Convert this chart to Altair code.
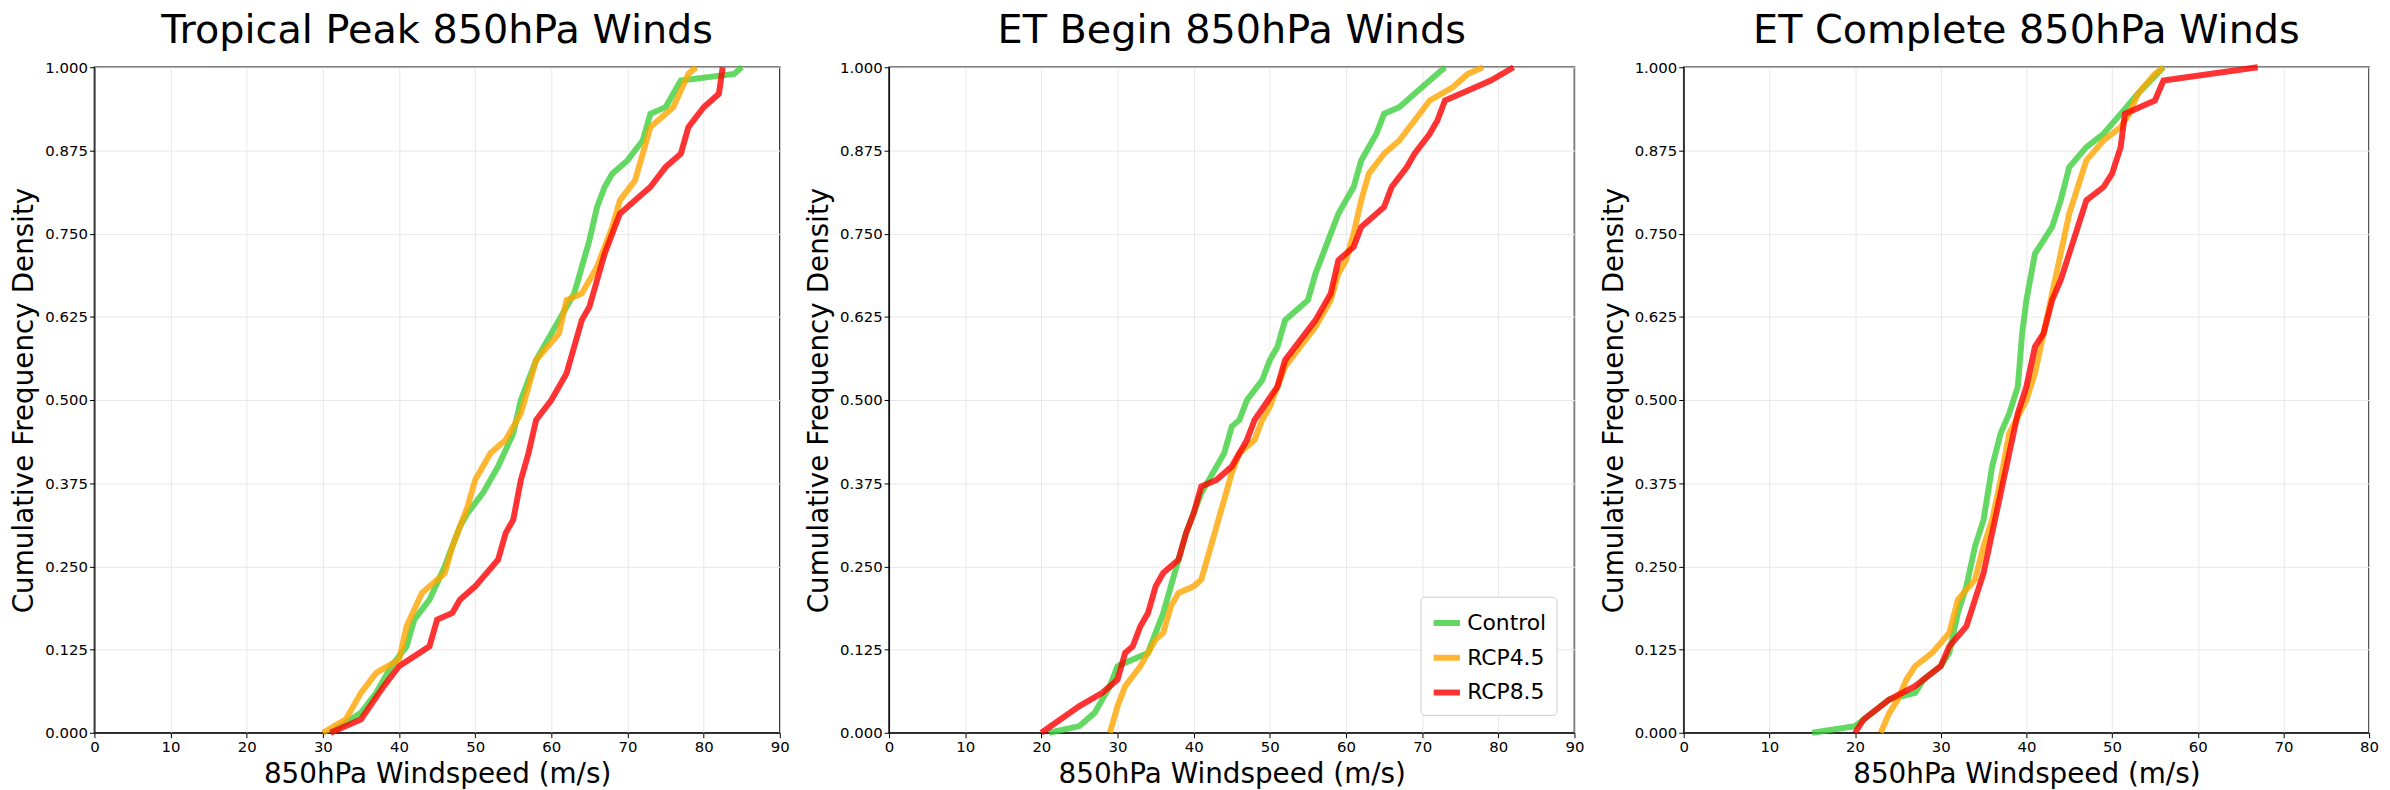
import pandas as pd
import altair as alt

series = ["Control", "RCP4.5", "RCP8.5"]
colors = ["#3ccf3c", "#ffa500", "#ff0000"]

# Tropical Peak
tp_ctl_x = [31, 35, 37, 39, 41, 42, 44, 46, 47, 48, 49, 51, 53, 55, 56, 57, 58, 60, 61, 62, 63, 64, 65, 66, 67, 68, 70, 72, 73, 75, 77, 84, 85]
tp_ctl_y = [0, .03, .06, .1, .13, .17, .2, .25, .28, .31, .33, .36, .4, .45, .5, .53, .56, .6, .62, .64, .66, .7, .74, .79, .82, .84, .86, .89, .93, .94, .98, .99, 1]
tp_45_x = [30, 33, 35, 37, 40, 41, 43, 45, 46, 47, 49, 50, 52, 54, 56, 58, 61, 62, 64, 66, 68, 69, 71, 73, 76, 78, 79]
tp_45_y = [0, .02, .06, .09, .11, .16, .21, .23, .24, .28, .34, .38, .42, .44, .48, .56, .6, .65, .66, .7, .76, .8, .83, .91, .94, .99, 1]
tp_85_x = [31, 35, 38, 40, 44, 45, 47, 48, 50, 53, 54, 55, 56, 57, 58, 60, 62, 63, 64, 65, 66, 67, 68, 69, 71, 73, 75, 77, 78, 80, 82, 82.5]
tp_85_y = [0, .02, .07, .1, .13, .17, .18, .2, .22, .26, .3, .32, .38, .42, .47, .5, .54, .58, .62, .64, .68, .72, .75, .78, .8, .82, .85, .87, .91, .94, .96, 1]

# ET Begin
eb_ctl_x = [21, 25, 27, 29, 30, 32, 34, 35, 36, 37, 38, 39, 40, 41, 42, 44, 45, 46, 47, 49, 50, 51, 52, 53, 55, 56, 57, 58, 59, 60, 61, 62, 63, 64, 65, 67, 69, 71, 73]
eb_ctl_y = [0, .01, .03, .07, .1, .11, .12, .15, .18, .22, .26, .3, .33, .36, .38, .42, .46, .47, .5, .53, .56, .58, .62, .63, .65, .69, .72, .75, .78, .8, .82, .86, .88, .9, .93, .94, .96, .98, 1]
eb_45_x = [29, 30, 31, 33, 34, 35, 36, 37, 38, 40, 41, 42, 43, 44, 45, 46, 48, 49, 50, 52, 54, 56, 58, 59, 60, 61, 62, 63, 65, 67, 69, 71, 74, 76, 78]
eb_45_y = [0, .04, .07, .1, .12, .14, .15, .19, .21, .22, .23, .27, .31, .35, .39, .42, .44, .47, .49, .55, .58, .61, .65, .69, .71, .75, .8, .84, .87, .89, .92, .95, .97, .99, 1]
eb_85_x = [20, 25, 28, 30, 31, 32, 33, 34, 35, 36, 38, 39, 40, 41, 43, 45, 47, 48, 51, 52, 54, 56, 58, 59, 61, 62, 65, 66, 68, 69, 71, 72, 73, 77, 79, 82]
eb_85_y = [0, .04, .06, .08, .12, .13, .16, .18, .22, .24, .26, .3, .33, .37, .38, .4, .44, .47, .52, .56, .59, .62, .66, .71, .73, .76, .79, .82, .85, .87, .9, .92, .95, .97, .98, 1]

# ET Complete
ec_ctl_x = [15, 20, 22, 23, 24, 27, 28, 30, 31, 32, 33, 34, 35, 35.5, 36, 37, 38, 39, 39.5, 40, 41, 42, 43, 44, 45, 47, 49, 51, 53, 56]
ec_ctl_y = [0, .01, .03, .04, .05, .06, .08, .1, .12, .18, .22, .28, .32, .36, .4, .45, .48, .52, .6, .65, .72, .74, .76, .8, .85, .88, .9, .93, .96, 1]
ec_45_x = [23, 24, 25, 26, 27, 29, 31, 32, 34, 35, 36, 37, 38, 40, 41, 42, 43, 44, 45, 46, 47, 49, 51, 52, 53, 55, 56]
ec_45_y = [0, .03, .05, .08, .1, .12, .15, .2, .23, .28, .32, .38, .45, .5, .54, .6, .66, .72, .78, .82, .86, .89, .91, .93, .96, .99, 1]
ec_85_x = [20, 21, 24, 27, 30, 31, 33, 34, 35, 36, 37, 38, 39, 40, 41, 42, 43, 44, 45, 46, 47, 49, 50, 51, 51.5, 55, 56, 67]
ec_85_y = [0, .02, .05, .07, .1, .13, .16, .2, .24, .3, .36, .42, .48, .52, .58, .6, .65, .68, .72, .76, .8, .82, .84, .88, .93, .95, .98, 1]

y_ticks = [0, 0.125, 0.25, 0.375, 0.5, 0.625, 0.75, 0.875, 1.0]


def make_df(xs, ys):
    rows = []
    for name, x, y in zip(series, xs, ys):
        for i, (a, b) in enumerate(zip(x, y)):
            rows.append({"series": name, "x": a, "y": b, "i": i})
    return pd.DataFrame(rows)


def panel(df, title, xmax, legend):
    if legend:
        leg = alt.Legend(title=None, orient="bottom-right", labelFontSize=22,
                         symbolType="stroke", symbolStrokeWidth=6, symbolSize=700,
                         strokeColor="#cccccc", fillColor="white", padding=10,
                         cornerRadius=4, labelFont="DejaVu Sans", rowPadding=6)
    else:
        leg = None
    color = alt.Color("series:N", scale=alt.Scale(domain=series, range=colors))
    color = color.legend(leg)
    return alt.Chart(df).mark_line(strokeWidth=6, opacity=0.8).encode(
        x=alt.X("x:Q", scale=alt.Scale(domain=[0, xmax], nice=False),
                axis=alt.Axis(title="850hPa Windspeed (m/s)", values=list(range(0, xmax + 1, 10)))),
        y=alt.Y("y:Q", scale=alt.Scale(domain=[0, 1]),
                axis=alt.Axis(title="Cumulative Frequency Density", values=y_ticks, format=".3f")),
        color=color,
        order="i:Q",
    ).properties(width=690, height=670,
                 title=alt.TitleParams(title, fontSize=40, fontWeight="normal", font="DejaVu Sans", offset=4))


p1 = panel(make_df([tp_ctl_x, tp_45_x, tp_85_x], [tp_ctl_y, tp_45_y, tp_85_y]), "Tropical Peak 850hPa Winds", 90, False)
p2 = panel(make_df([eb_ctl_x, eb_45_x, eb_85_x], [eb_ctl_y, eb_45_y, eb_85_y]), "ET Begin 850hPa Winds", 90, True)
p3 = panel(make_df([ec_ctl_x, ec_45_x, ec_85_x], [ec_ctl_y, ec_45_y, ec_85_y]), "ET Complete 850hPa Winds", 80, False)

chart = alt.hconcat(p1, p2, p3, spacing=14).resolve_scale(color="independent").configure_axis(
    labelFontSize=15, titleFontSize=28, titleFontWeight="normal", labelFont="DejaVu Sans",
    titleFont="DejaVu Sans", gridColor="#e8e8e8", domainColor="black", tickColor="black",
    labelColor="black", titleColor="black", labelFlush=False, titlePadding=6,
).configure_view(stroke="black", strokeWidth=1.5).properties(padding={"left": 2, "right": 2, "top": 0, "bottom": 0})

chart.save("out.html", embed_options={"renderer": "svg", "actions": False})
